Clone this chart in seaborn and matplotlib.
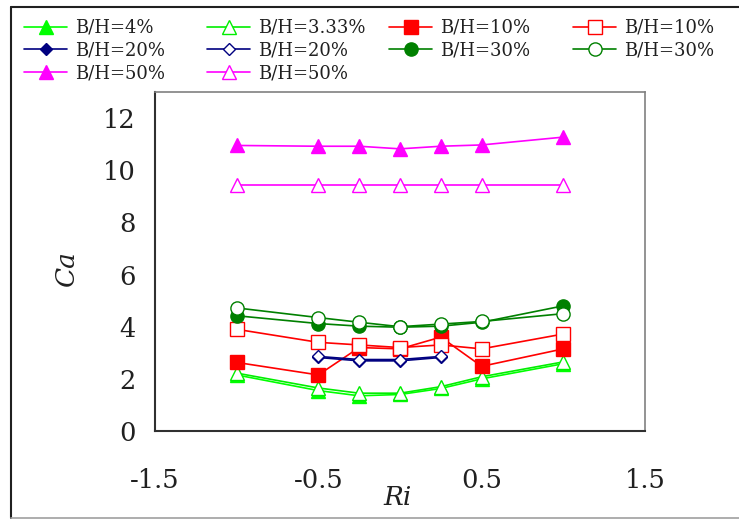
import matplotlib
matplotlib.use("Agg")
import matplotlib.pyplot as plt
from matplotlib.lines import Line2D
import seaborn as sns
import pandas as pd

# ---- data ----
ri_full = [-1.0, -0.5, -0.25, 0.0, 0.25, 0.5, 1.0]
ri_20 = [-0.5, -0.25, 0.0, 0.25]

bh4_f = [2.15, 1.55, 1.35, 1.40, 1.63, 2.00, 2.58]
bh333_o = [2.22, 1.65, 1.45, 1.45, 1.70, 2.08, 2.65]
bh10_f = [2.63, 2.15, 3.20, 3.15, 3.60, 2.48, 3.15]
bh10_o = [3.90, 3.40, 3.30, 3.20, 3.30, 3.15, 3.72]
bh20_f = [2.82, 2.69, 2.69, 2.82]
bh20_o = [2.86, 2.74, 2.74, 2.86]
bh30_f = [4.42, 4.12, 4.02, 3.98, 4.02, 4.17, 4.80]
bh30_o = [4.72, 4.35, 4.17, 4.00, 4.10, 4.20, 4.50]
bh50_f = [10.95, 10.92, 10.92, 10.82, 10.92, 10.97, 11.27]
bh50_o = [9.42, 9.42, 9.42, 9.42, 9.42, 9.42, 9.42]

labels = ["B/H=4%", "B/H=3.33%", "B/H=10%", "B/H=10%", "B/H=20%",
          "B/H=20%", "B/H=30%", "B/H=30%", "B/H=50%", "B/H=50%"]
x_ticks = [-1.5, -0.5, 0.5, 1.5]
y_ticks = [0, 2, 4, 6, 8, 10, 12]

series = [
    (ri_full, bh4_f, "#00FF00", "^", True, 10),
    (ri_full, bh333_o, "#00EE00", "^", False, 10),
    (ri_full, bh10_f, "#FF0000", "s", True, 9.5),
    (ri_full, bh10_o, "#FF0000", "s", False, 9.5),
    (ri_20, bh20_f, "#000080", "D", True, 6.5),
    (ri_20, bh20_o, "#000080", "D", False, 6.5),
    (ri_full, bh30_f, "#008000", "o", True, 9.5),
    (ri_full, bh30_o, "#008000", "o", False, 9.5),
    (ri_full, bh50_f, "#FF00FF", "^", True, 10),
    (ri_full, bh50_o, "#FF00FF", "^", False, 10),
]

sns.set_style("white")
plt.rcParams["font.family"] = ["DejaVu Serif"]

W, H = 739, 523
fig = plt.figure(figsize=(W / 100, H / 100), dpi=100)
ax = fig.add_axes([155 / W, 1 - 431 / H, 490 / W, 339 / H])

handles = []
for (xs, ys, col, mk, filled, ms), lab in zip(series, labels):
    df = pd.DataFrame({"Ri": xs, "Ca": ys})
    sns.lineplot(data=df, x="Ri", y="Ca", ax=ax, color=col, marker=mk,
                 markersize=ms, markerfacecolor=col if filled else "white",
                 markeredgecolor=col, markeredgewidth=1.0, linewidth=1.2,
                 estimator=None, legend=False)
    handles.append(Line2D([0], [0], color=col, marker=mk, markersize=ms,
                          markerfacecolor=col if filled else "white",
                          markeredgecolor=col, markeredgewidth=1.0,
                          linewidth=1.2, label=lab))

ax.set_xlim(-1.5, 1.5)
ax.set_ylim(0, 13)
ax.set_xticks(x_ticks)
ax.set_xticklabels([str(v) for v in x_ticks])
ax.set_yticks(y_ticks)
ax.set_yticklabels([str(v) for v in y_ticks])
ax.tick_params(axis="both", direction="out", length=6, width=1.2,
               color="#303030", labelsize=18.5, labelcolor="#202020")
ax.tick_params(axis="x", pad=21)
ax.tick_params(axis="y", pad=8)
for s in ["left", "bottom"]:
    ax.spines[s].set_color("#303030")
    ax.spines[s].set_linewidth(1.5)
for s in ["top", "right"]:
    ax.spines[s].set_color("#808080")
    ax.spines[s].set_linewidth(1.2)

ax.set_xlabel("Ri", fontsize=19, style="italic", color="#202020")
ax.set_ylabel("Ca", fontsize=19, style="italic", color="#202020")
ax.xaxis.set_label_coords((398 - 155) / 490, (431 - 485) / 339)
ax.yaxis.set_label_coords((79 - 155) / 490, (431 - 268) / 339)

# legend: four columns placed individually, filled row-wise like the reference
col_x = [24, 207, 389, 573]
columns = [[0, 4, 8], [1, 5, 9], [2, 6], [3, 7]]
for cx, idxs in zip(col_x, columns):
    leg = fig.legend(handles=[handles[i] for i in idxs], loc="upper left",
                     bbox_to_anchor=(cx / W, 1 - 19 / H), frameon=False,
                     fontsize=13, handlelength=2.4, handletextpad=0.4,
                     labelspacing=0.25, borderpad=0, borderaxespad=0,
                     numpoints=1)
    for t in leg.get_texts():
        t.set_color("#202020")

# outer chart border
fig.add_artist(Line2D([11 / W, 1.0], [1 - 7 / H, 1 - 7 / H],
                      transform=fig.transFigure, color="#202020", lw=1.5))
fig.add_artist(Line2D([11 / W, 11 / W], [1 - 7 / H, 1 - 518 / H],
                      transform=fig.transFigure, color="#202020", lw=1.5))
fig.add_artist(Line2D([11 / W, 1.0], [1 - 518 / H, 1 - 518 / H],
                      transform=fig.transFigure, color="#A0A0A0", lw=1.2))

fig.savefig("out.png", dpi=100)
